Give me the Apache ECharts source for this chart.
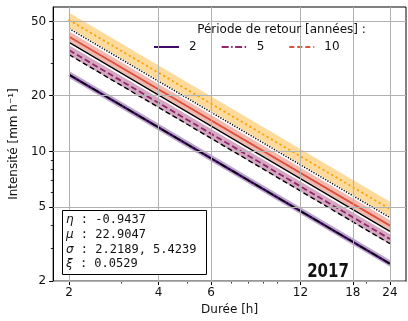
<!DOCTYPE html>
<html>
<head>
<meta charset="utf-8">
<script src="https://cdn.jsdelivr.net/npm/echarts@6/dist/echarts.min.js"></script>
<style>
  html, body { margin: 0; padding: 0; background: #fff; }
  #chart { width: 408px; height: 321px; }
</style>
</head>
<body>
<div id="chart"></div>
<script>
// Durations (h) at which each intensity curve is given (straight lines in log-log)
const durations = [2, 24];

// Model curves per return period, with their confidence bands (mm/h)
const gevT20 = [51.0, 4.89];
const gevT20Hi = [55.9, 5.36];
const gevT20Lo = [46.5, 4.46];
const gevT10 = [41.5, 3.98];
const gevT10Hi = [44.3, 4.25];
const gevT10Lo = [39.2, 3.76];
const gevT5 = [35.1, 3.37];
const gevT5Hi = [37.3, 3.58];
const gevT5Lo = [33.0, 3.16];
const gevT2 = [25.9, 2.48];
const gevT2Hi = [27.1, 2.60];
const gevT2Lo = [24.9, 2.39];

// Reference curves (black)
const refT20 = [45.9, 4.40];
const refT10 = [38.7, 3.71];
const refT5 = [33.2, 3.18];
const refT2 = [25.9, 2.48];

// Legend entries (return periods, years)
const legendPeriods = ['2', '5', '10'];

// Axis ticks
const xTicks = [2, 4, 6, 12, 18, 24];
const xMinorTicks = [3, 5, 7, 8, 9, 10, 20];
const yTicks = [2, 5, 10, 20, 50];
const yMinorTicks = [3, 4, 6, 7, 8, 9, 30, 40];

// Fitted parameters shown in the inset box
const paramSymbols = ['η', 'μ', 'σ', 'ξ'];
const paramValues = ['-0.9437', '22.9047', '2.2189, 5.4239', '0.0529'];
const yearLabel = '2017';

const FONT = 'DejaVu Sans';
const X_MIN = 1.767, X_MAX = 27.17, Y_MIN = 2, Y_MAX = 60;

function pts(vals) { return durations.map((d, i) => [d, vals[i]]); }

function bandSeries(hi, lo, fill) {
  const rows = durations.map((d, i) => [d, hi[i], lo[i]]);
  return {
    type: 'custom',
    silent: true,
    z: 2,
    data: rows,
    encode: { x: 0, y: [1, 2] },
    renderItem: function (params, api) {
      if (params.dataIndex !== 0) return null;
      const upper = rows.map(r => api.coord([r[0], r[1]]));
      const lower = rows.map(r => api.coord([r[0], r[2]])).reverse();
      return {
        type: 'polygon',
        shape: { points: upper.concat(lower) },
        style: { fill: fill }
      };
    }
  };
}

function lineSeries(name, vals, style, z) {
  return {
    type: 'line',
    name: name,
    data: pts(vals),
    symbol: 'none',
    silent: true,
    z: z,
    itemStyle: { color: style.color },
    lineStyle: style
  };
}

const legendStyles = {
  '2': { color: '#420a68', width: 1.8, type: 'solid' },
  '5': { color: '#932667', width: 1.8, type: [7, 2.5, 1.5, 2.5] },
  '10': { color: '#dd513a', width: 1.8, type: [5, 3] }
};

const series = [
  // grid lines
  {
    type: 'line',
    data: [],
    silent: true,
    z: 1,
    markLine: {
      silent: true,
      symbol: 'none',
      animation: false,
      label: { show: false },
      lineStyle: { color: '#b0b0b0', width: 1, type: 'solid' },
      data: xTicks.map(v => ({ xAxis: v })).concat(yTicks.map(v => ({ yAxis: v })))
    }
  },
  bandSeries(gevT20Hi, gevT20Lo, 'rgba(252,165,10,0.4)'),
  bandSeries(gevT10Hi, gevT10Lo, 'rgba(221,81,58,0.4)'),
  bandSeries(gevT5Hi, gevT5Lo, 'rgba(147,38,103,0.4)'),
  bandSeries(gevT2Hi, gevT2Lo, 'rgba(66,10,104,0.35)'),
  lineSeries('gevT20', gevT20, { color: '#fca50a', width: 2, type: [0.5, 4.5], cap: 'round' }, 3),
  lineSeries('gevT10', gevT10, { color: '#dd513a', width: 1.8, type: 'solid' }, 3),
  lineSeries('gevT5', gevT5, { color: '#932667', width: 1.8, type: [6, 3] }, 3),
  lineSeries('gevT2', gevT2, { color: '#420a68', width: 2.2, type: 'solid' }, 3),
  lineSeries('refT20', refT20, { color: '#000', width: 1.5, type: [1.2, 1.5] }, 4),
  lineSeries('refT10', refT10, { color: '#000', width: 1.4, type: 'solid' }, 4),
  lineSeries('refT5', refT5, { color: '#000', width: 1.4, type: [5, 3] }, 4),
  lineSeries('refT2', refT2, { color: '#000', width: 1.4, type: [7, 2.5, 1.5, 2.5] }, 4)
];

// empty series carrying the legend entries
legendPeriods.forEach(p => {
  series.push({
    type: 'line',
    name: p,
    data: [],
    symbol: 'none',
    itemStyle: { color: legendStyles[p].color, opacity: 0 },
    lineStyle: legendStyles[p]
  });
});

function logAxis(pos, min, max, ticks, labelMargin) {
  return {
    type: 'log',
    logBase: 10,
    position: pos,
    min: min,
    max: max,
    axisLine: { show: true, lineStyle: { color: '#000', width: 1 } },
    axisTick: { show: true, inside: false, length: 4, customValues: ticks, lineStyle: { color: '#000', width: 1 } },
    axisLabel: {
      show: true, customValues: ticks, margin: labelMargin,
      fontFamily: FONT, fontSize: 12, color: '#111',
      formatter: v => String(Math.round(v))
    },
    splitLine: { show: false },
    minorTick: { show: false },
    minorSplitLine: { show: false }
  };
}

function minorAxis(pos, min, max, ticks) {
  return {
    type: 'log',
    logBase: 10,
    position: pos,
    min: min,
    max: max,
    axisLine: { show: false },
    axisTick: { show: true, inside: false, length: 2.4, customValues: ticks, lineStyle: { color: '#000', width: 0.8 } },
    axisLabel: { show: false },
    splitLine: { show: false }
  };
}

const paramText = paramSymbols.map((s, i) => '{g|' + s + '}{v| : ' + paramValues[i] + '}').join('\n');

const chart = echarts.init(document.getElementById('chart'), null, { renderer: 'canvas' });
chart.setOption({
  animation: false,
  backgroundColor: '#fff',
  textStyle: { fontFamily: FONT },
  grid: {
    left: 48, right: 2, top: 7, bottom: 35,
    show: true, borderColor: '#000', borderWidth: 1, backgroundColor: 'transparent'
  },
  xAxis: [
    Object.assign(logAxis('bottom', X_MIN, X_MAX, xTicks, 6), {
      name: 'Durée [h]', nameLocation: 'middle', nameGap: 20,
      nameTextStyle: { fontFamily: FONT, fontSize: 12, color: '#111' }
    }),
    minorAxis('bottom', X_MIN, X_MAX, xMinorTicks)
  ],
  yAxis: [
    Object.assign(logAxis('left', Y_MIN, Y_MAX, yTicks, 7), {
      name: 'Intensité [mm h⁻¹]', nameLocation: 'middle', nameGap: 28,
      nameTextStyle: { fontFamily: FONT, fontSize: 12, color: '#111' }
    }),
    minorAxis('left', Y_MIN, Y_MAX, yMinorTicks)
  ],
  legend: {
    data: legendPeriods,
    left: 153, top: 41,
    padding: 0,
    itemWidth: 25, itemHeight: 12, itemGap: 24,
    selectedMode: false,
    itemStyle: { opacity: 0 },
    textStyle: { fontFamily: FONT, fontSize: 12, color: '#111', padding: [0, 0, 0, 5] }
  },
  graphic: [
    {
      type: 'text', z: 100,
      x: 281.5, y: 30,
      style: {
        text: 'Période de retour [années] :',
        font: '12px "DejaVu Sans"', fill: '#111',
        textAlign: 'center', textVerticalAlign: 'middle'
      }
    },
    {
      type: 'rect', z: 100,
      shape: { x: 62.5, y: 210.5, width: 144, height: 64 },
      style: { fill: '#fff', stroke: '#000', lineWidth: 1 }
    },
    {
      type: 'text', z: 101,
      x: 66, y: 213,
      style: {
        text: paramText,
        fill: '#111',
        lineHeight: 14.6,
        rich: {
          g: { fontFamily: 'DejaVu Sans', fontStyle: 'italic', fontSize: 12, lineHeight: 14.6, fill: '#111' },
          v: { fontFamily: 'DejaVu Sans Mono', fontSize: 12, lineHeight: 14.6, fill: '#111' }
        }
      }
    },
    {
      type: 'text', z: 101,
      x: 328, y: 272.5,
      scaleY: 1.25,
      style: {
        text: yearLabel,
        font: 'bold 15px "DejaVu Sans"', fill: '#111',
        textAlign: 'center', textVerticalAlign: 'middle'
      }
    }
  ],
  series: series
});
</script>
</body>
</html>
